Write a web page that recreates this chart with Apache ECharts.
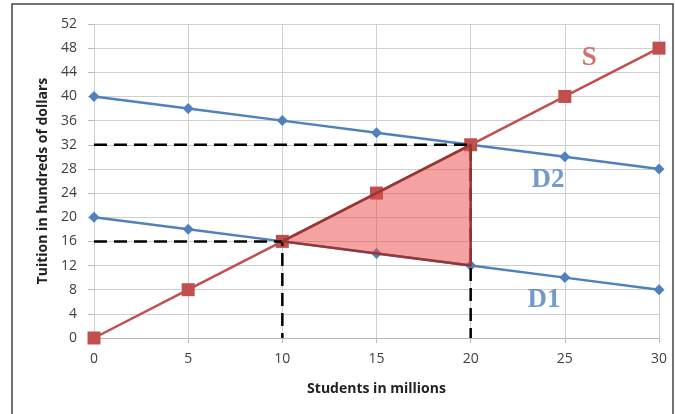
<!DOCTYPE html>
<html><head><meta charset="utf-8">
<script src="https://cdn.jsdelivr.net/npm/echarts@6/dist/echarts.min.js"></script>
<style>html,body{margin:0;padding:0;background:#fff}#c{width:675px;height:414px}</style>
</head><body><div id="c"></div>
<script>
const xTicks = [0, 5, 10, 15, 20, 25, 30];
const supplyS = [0, 8, 16, 24, 32, 40, 48];
const demandD2 = [40, 38, 36, 34, 32, 30, 28];
const demandD1 = [20, 18, 16, 14, 12, 10, 8];
const triangle = [[10, 16], [20, 32], [20, 12]];
const dashHigh = [[0, 32], [20, 32], [20, 0]];
const dashLow = [[0, 16], [10, 16], [10, 0]];
const curveLabels = [
  { name: 'S', value: [26.3, 46.4], color: '#C0504D' },
  { name: 'D2', value: [24.1, 26.2], color: '#4F81BD' },
  { name: 'D1', value: [23.9, 6.3], color: '#4F81BD' }
];

const pair = (ys) => xTicks.map((x, i) => [x, ys[i]]);
const chart = echarts.init(document.getElementById('c'), null, { renderer: 'canvas' });
const font = '"Open Sans", "Noto Sans", sans-serif';
chart.setOption({
  animation: false,
  backgroundColor: '#fff',
  graphic: [{
    type: 'rect', shape: { x: 12, y: 4, width: 661, height: 430 },
    style: { fill: 'none', stroke: '#444', lineWidth: 1.5 }, z: -10
  }],
  grid: { left: 94, right: 16, top: 24, bottom: 76 },
  xAxis: {
    type: 'value', min: 0, max: 30, interval: 5,
    name: 'Students in millions', nameLocation: 'middle', nameGap: 44,
    nameTextStyle: { fontFamily: font, fontWeight: 'bold', fontSize: 14, color: '#222' },
    axisLine: { show: true, onZero: false, lineStyle: { color: '#b8b8b8', width: 1 } },
    axisTick: { show: true, length: 5, lineStyle: { color: '#b8b8b8' } },
    axisLabel: { fontFamily: font, fontSize: 14, color: '#404040', margin: 14 },
    splitLine: { show: true, lineStyle: { color: '#cfcfcf', width: 1 } }
  },
  yAxis: {
    type: 'value', min: 0, max: 52, interval: 4,
    name: 'Tuition in hundreds of dollars', nameLocation: 'middle', nameGap: 41,
    nameTextStyle: { fontFamily: font, fontWeight: 'bold', fontSize: 14, color: '#222' },
    axisLine: { show: false },
    axisTick: { show: true, length: 6, lineStyle: { color: '#b8b8b8' } },
    axisLabel: { fontFamily: font, fontSize: 14, color: '#404040', margin: 17 },
    splitLine: { show: true, lineStyle: { color: '#cfcfcf', width: 1 } }
  },
  series: [
    { type: 'line', name: 'D2', data: pair(demandD2), symbol: 'diamond', symbolSize: 11,
      lineStyle: { color: '#4F81BD', width: 2.5 }, itemStyle: { color: '#4F81BD' }, z: 3 },
    { type: 'line', name: 'D1', data: pair(demandD1), symbol: 'diamond', symbolSize: 11,
      lineStyle: { color: '#4F81BD', width: 2.5 }, itemStyle: { color: '#4F81BD' }, z: 3 },
    { type: 'line', name: 'S', data: pair(supplyS), symbol: 'rect', symbolSize: 13,
      lineStyle: { color: '#C0504D', width: 2.5 }, itemStyle: { color: '#C0504D' }, z: 4 },
    { type: 'line', data: dashHigh, symbol: 'none', z: 5,
      lineStyle: { color: '#000', width: 2.5, type: [13, 7] } },
    { type: 'line', data: dashLow, symbol: 'none', z: 5,
      lineStyle: { color: '#000', width: 2.5, type: [13, 7] } },
    { type: 'custom', z: 6, data: [0],
      renderItem: (params, api) => ({
        type: 'polygon',
        shape: { points: triangle.map(p => api.coord(p)) },
        style: { fill: 'rgba(235,70,70,0.5)', stroke: '#953735', lineWidth: 2.5, lineJoin: 'round' }
      })
    },
    { type: 'scatter', symbolSize: 0, z: 7,
      data: curveLabels.map(l => ({ name: l.name, value: l.value,
        label: { show: true, position: 'inside', formatter: l.name, color: l.color,
          fontFamily: '"Liberation Serif", "DejaVu Serif", serif', fontWeight: 'bold', fontSize: 27 } })) }
  ]
});
</script></body></html>
